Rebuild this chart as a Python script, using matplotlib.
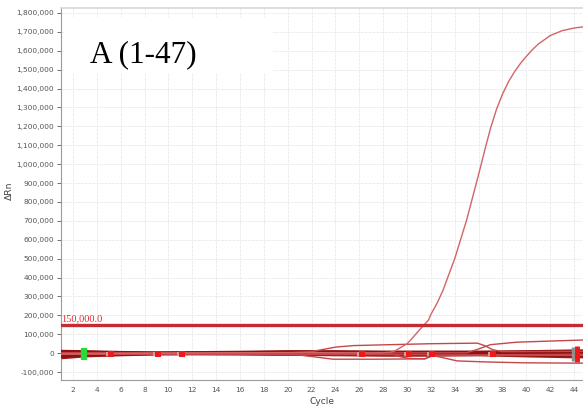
import matplotlib.pyplot as plt
import matplotlib.ticker as ticker
from matplotlib.patches import Rectangle

# threshold and axis ranges
threshold = 150000
cycle_ticks = list(range(2, 46, 2))
rn_ticks = list(range(-100000, 1800001, 100000))

# amplified sample (thousands)
amp_cycles = [1, 5, 10, 15, 20, 25, 27, 28, 28.6, 29, 30, 30.3, 31, 31.8, 32, 32.5, 33, 34, 35,
              36, 36.5, 37, 37.5, 38, 38.5, 39, 39.5, 40, 40.5, 41, 42, 43, 44, 45]
amp_vals = [-4, -2, 0, 2, 3, 2, 1, 2, 5, 12, 50, 69, 120, 175, 205, 262, 330, 500, 705,
            945, 1070, 1190, 1290, 1370, 1435, 1488, 1532, 1570, 1605, 1635, 1680, 1706, 1720, 1728]

# envelope of the non-amplified wells (thousands)
band_cycles = [1, 3, 6, 9, 12, 16, 20, 24, 28, 32, 36, 40, 44, 45]
band_upper = [18, 16, 12, 8, 10, 12, 15, 15, 14, 13, 13, 16, 20, 20]
band_lower = [-30, -20, -14, -10, -9, -10, -12, -14, -16, -16, -14, -20, -25, -25]
base_1 = [12, 10, 6, 4, 5, 7, 10, 10, 8, 8, 8, 10, 14, 14]
base_2 = [-20, -12, -8, -4, -3, -4, -6, -8, -10, -10, -8, -12, -16, -16]
base_3 = [2, 0, -2, 0, 2, 3, 4, 2, 0, -2, 0, 2, 4, 4]
base_4 = [-8, -5, -4, -2, 0, 0, -1, -3, -4, -5, -3, -6, -8, -8]
base_5 = [6, 4, 2, 2, 3, 5, 7, 6, 5, 4, 5, 6, 9, 9]

# wells drifting away from the baseline (thousands)
drift_a_cycles = [1, 20, 22, 23, 24, 25.5, 28, 32, 35.9, 36.5, 37.2, 38, 45]
drift_a_vals = [0, 2, 8, 20, 32, 40, 44, 50, 53, 40, 18, 8, 10]
drift_b_cycles = [1, 35, 35.9, 37, 39.2, 42, 45]
drift_b_vals = [0, 2, 20, 45, 58, 64, 70]
drift_c_cycles = [1, 18, 21, 23.8, 27.4, 31.5, 32.2, 45]
drift_c_vals = [-2, -4, -10, -32, -32, -30, -12, -12]
drift_d_cycles = [1, 31.8, 32.8, 34.2, 36.4, 39.7, 45]
drift_d_vals = [-6, -8, -21, -41, -46, -51, -53]
drift_e_cycles = [1, 28.5, 29.5, 30.2, 31.5, 32.2, 45]
drift_e_vals = [0, 2, -20, -28, -30, -10, -6]

# Ct markers
ct_cycles = [5.2, 9.1, 11.1, 26.2, 30.2, 32.1, 37.2]
ct_vals = [-6, -3, -4, -3, -6, -2, -3]

fig = plt.figure(figsize=(5.83, 4.08), dpi=100)
ax = fig.add_axes([61 / 583, 28 / 408, 522 / 583, 372 / 408])

k = 1000
dark = '#a31818'
thin = '#c4474a'

ax.fill_between(band_cycles, [v * k for v in band_lower], [v * k for v in band_upper],
                color=dark, lw=0, zorder=3)
for b in [base_1, base_2, base_3, base_4, base_5]:
    ax.plot(band_cycles, [v * k for v in b], color='#8e1212', lw=1.6, zorder=3)

for cx, cy in [(drift_a_cycles, drift_a_vals), (drift_b_cycles, drift_b_vals),
               (drift_c_cycles, drift_c_vals), (drift_d_cycles, drift_d_vals),
               (drift_e_cycles, drift_e_vals)]:
    ax.plot(cx, [v * k for v in cy], color=thin, lw=1.0, zorder=4)

ax.plot(amp_cycles, [v * k for v in amp_vals], color='#d26466', lw=1.0, zorder=4)

ax.axhline(threshold, color='#c42b33', lw=2.4, zorder=5)
ax.text(1.05, threshold + 6000, '150,000.0', color='#e0282f', fontsize=7.5,
        family='Liberation Serif', va='bottom', ha='left', zorder=6)

# Ct markers
ax.plot([c - 0.25 for c in ct_cycles], [v * k for v in ct_vals], 's', color='#c8a0a0',
        ms=3.5, mew=0, zorder=6)
ax.plot(ct_cycles, [v * k for v in ct_vals], 's', color='#f01818', ms=4.5, mew=0, zorder=6)
ax.plot([2.9], [-6000], 's', color='#22dd33', ms=5, mew=0, zorder=6)
ax.plot([2.9], [-6000], '|', color='#22dd33', ms=9, mew=4.5, zorder=6)
ax.plot([43.9], [-5000], '|', color='#909090', ms=10, mew=2.5, zorder=6)
ax.plot([44.25], [-5000], '|', color='#f01818', ms=11, mew=3.5, zorder=6)

ax.set_xlim(1, 44.75)
ax.set_ylim(-142000, 1826000)
ax.set_xticks(cycle_ticks)
ax.set_yticks(rn_ticks)
ax.yaxis.set_major_formatter(ticker.FuncFormatter(lambda v, p: f'{int(v):,}'))
ax.tick_params(axis='both', labelsize=5.3, colors='#555555', length=3, width=0.6, pad=2)
ax.tick_params(axis='x', length=0, pad=5)
ax.grid(True, color='#ececec', lw=0.7, ls=(0, (3, 1)), zorder=0)
ax.set_axisbelow(True)
ax.spines['right'].set_visible(False)
ax.spines['top'].set_color('#d8d8d8')
ax.spines['top'].set_linewidth(1.2)
ax.spines['left'].set_color('#9a9a9a')
ax.spines['bottom'].set_color('#9a9a9a')

ax.set_xlabel('Cycle', fontsize=6.6, color='#444444', labelpad=3)
ax.set_ylabel('\u0394Rn', fontsize=6.6, color='#444444')
ax.yaxis.set_label_coords(-47 / 522, 0.51)

# white panel behind the figure label
ax.add_patch(Rectangle((4 / 522, 307 / 372), 208 / 522, 56 / 372, transform=ax.transAxes,
                       facecolor='white', edgecolor='none', zorder=1))
ax.text(29 / 522, 318 / 372, 'A (1-47)', transform=ax.transAxes, fontsize=22.5,
        family='Liberation Serif', color='black', ha='left', va='baseline', zorder=2)

fig.savefig('out.png', dpi=100)
